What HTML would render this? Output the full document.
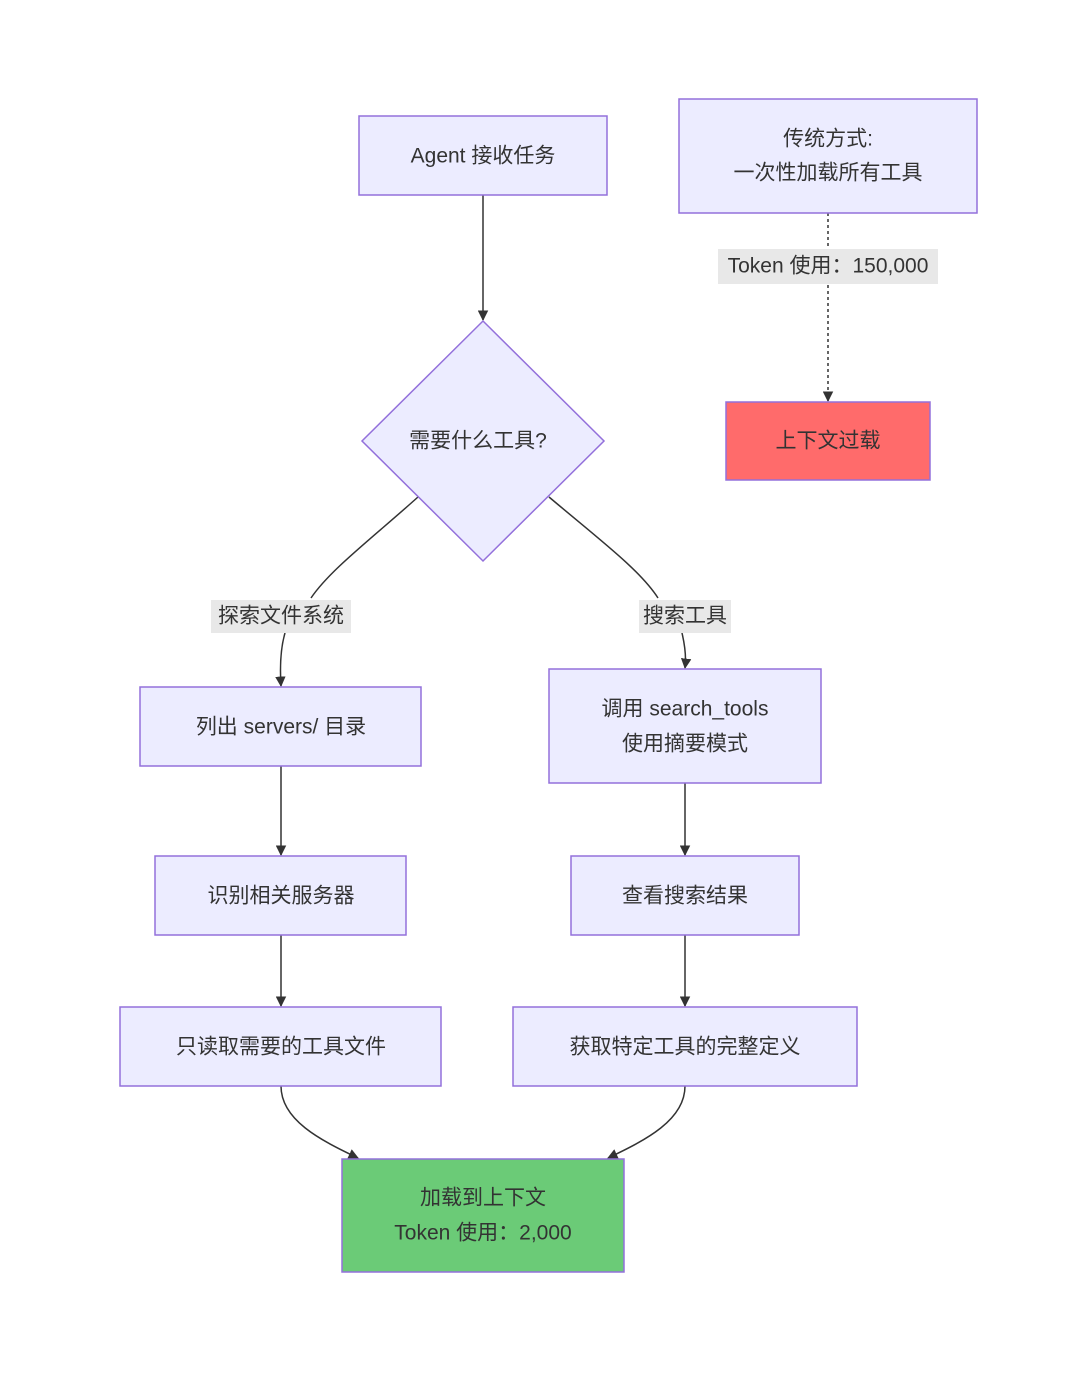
<!DOCTYPE html>
<html><head><meta charset="utf-8"><style>
html,body{margin:0;padding:0;background:#fff}
svg text{font-family:"Liberation Sans","Noto Sans CJK SC",sans-serif;font-size:21px;fill:#333;text-anchor:middle;dominant-baseline:central}
</style></head><body>
<svg width="1080" height="1387" viewBox="0 0 1080 1387" xmlns="http://www.w3.org/2000/svg">
<defs><marker id="a" viewBox="0 0 10 10" refX="9" refY="5" markerWidth="7" markerHeight="7" orient="auto"><path d="M0,0L10,5L0,10z" fill="#333"/></marker></defs>
<g fill="none" stroke="#333" stroke-width="1.5">
<path d="M483,195 V320" marker-end="url(#a)"/>
<path d="M828,213 V401" stroke-dasharray="3,3" marker-end="url(#a)"/>
<path d="M418,497 C370,540 330,570 311,598"/>
<path d="M285,633 C280,650 280,670 281,686" marker-end="url(#a)"/>
<path d="M549,497 C600,540 640,570 658,598"/>
<path d="M682,633 C686,650 686,660 685,668" marker-end="url(#a)"/>
<path d="M281,766 V855" marker-end="url(#a)"/>
<path d="M685,783 V855" marker-end="url(#a)"/>
<path d="M281,935 V1006" marker-end="url(#a)"/>
<path d="M685,935 V1006" marker-end="url(#a)"/>
<path d="M281,1086 C281,1120 320,1140 358,1158" marker-end="url(#a)"/>
<path d="M685,1086 C685,1120 646,1140 608,1158" marker-end="url(#a)"/>
</g>
<g stroke="#9370DB" stroke-width="1.5" fill="#ECECFF">
<rect x="359" y="116" width="248" height="79"/>
<rect x="679" y="99" width="298" height="114"/>
<rect x="726" y="402" width="204" height="78" fill="#FF6B6B"/>
<polygon points="483,321 604,441 483,561 362,441"/>
<rect x="140" y="687" width="281" height="79"/>
<rect x="549" y="669" width="272" height="114"/>
<rect x="155" y="856" width="251" height="79"/>
<rect x="571" y="856" width="228" height="79"/>
<rect x="120" y="1007" width="321" height="79"/>
<rect x="513" y="1007" width="344" height="79"/>
<rect x="342" y="1159" width="282" height="113" fill="#6BCB77"/>
</g>
<g fill="#e8e8e8">
<rect x="718" y="249" width="220" height="35"/>
<rect x="211" y="600" width="140" height="33"/>
<rect x="639" y="600" width="92" height="33"/>
</g>
<text x="483" y="156">Agent 接收任务</text>
<text x="828" y="139">传统方式:</text>
<text x="828" y="173">一次性加载所有工具</text>
<text x="828" y="266">Token 使用：150,000</text>
<text x="828" y="441">上下文过载</text>
<text x="478" y="441">需要什么工具?</text>
<text x="281" y="616">探索文件系统</text>
<text x="685" y="616">搜索工具</text>
<text x="281" y="727">列出 servers/ 目录</text>
<text x="685" y="709">调用 search_tools</text>
<text x="685" y="744">使用摘要模式</text>
<text x="281" y="896">识别相关服务器</text>
<text x="685" y="896">查看搜索结果</text>
<text x="281" y="1047">只读取需要的工具文件</text>
<text x="685" y="1047">获取特定工具的完整定义</text>
<text x="483" y="1198">加载到上下文</text>
<text x="483" y="1233">Token 使用：2,000</text>
</svg>
</body></html>
